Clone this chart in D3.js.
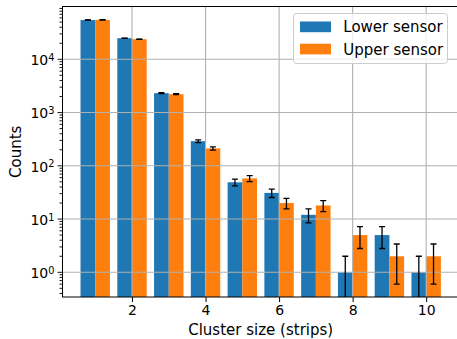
<!DOCTYPE html>
<html>
<head>
<meta charset="utf-8">
<script src="https://cdn.jsdelivr.net/npm/d3@7"></script>
<style>
  html, body { margin: 0; padding: 0; background: #fff; }
  svg { display: block; font-family: "DejaVu Sans", sans-serif; }
</style>
</head>
<body>
<svg id="chart" width="457" height="339"></svg>
<script>
// Cluster size distribution for the two sensors
const clusterSizes = [1, 2, 3, 4, 5, 6, 7, 8, 9, 10];
const lowerCounts = [54500, 24900, 2310, 290, 49, 31, 12, 1, 5, 1];
const upperCounts = [55000, 23800, 2210, 212, 58, 20, 18, 5, 2, 2];
const lowerErrors = [233, 158, 48, 17, 7, 5.6, 3.5, 1, 2.2, 1];
const upperErrors = [235, 154, 47, 14.6, 7.6, 4.5, 4.2, 2.2, 1.4, 1.4];
const seriesNames = ["Lower sensor", "Upper sensor"];
const seriesColors = ["#1f77b4", "#ff7f0e"];
const xTickValues = [2, 4, 6, 8, 10];
const yTickExponents = [0, 1, 2, 3, 4];

const svg = d3.select("#chart");
const plot = { left: 62.5, right: 458.9, top: 6.5, bottom: 297 };

const x = d3.scaleLinear().domain([0.11, 10.89]).range([plot.left, plot.right]);
const y = d3.scaleLog().domain([Math.pow(10, -0.4638), Math.pow(10, 4.9915)]).range([plot.bottom, plot.top]);

svg.append("defs").append("clipPath").attr("id", "plotClip")
  .append("rect")
  .attr("x", plot.left).attr("y", plot.top)
  .attr("width", plot.right - plot.left).attr("height", plot.bottom - plot.top);

const barWidth = 0.4;
const series = [
  { name: seriesNames[0], values: lowerCounts, errors: lowerErrors, color: seriesColors[0], offset: -barWidth },
  { name: seriesNames[1], values: upperCounts, errors: upperErrors, color: seriesColors[1], offset: 0 }
];

const area = svg.append("g").attr("clip-path", "url(#plotClip)");

// Bars
series.forEach(s => {
  area.append("g").selectAll("rect")
    .data(clusterSizes.map((c, i) => ({ c, v: s.values[i] })))
    .join("rect")
    .attr("x", d => x(d.c + s.offset))
    .attr("width", d => x(d.c + s.offset + barWidth) - x(d.c + s.offset))
    .attr("y", d => y(d.v))
    .attr("height", d => plot.bottom - y(d.v))
    .attr("fill", s.color);
});

// Grid lines (drawn above the bars)
const grid = area.append("g").attr("stroke", "#b0b0b0").attr("stroke-width", 1.1);
xTickValues.forEach(t => {
  grid.append("line")
    .attr("x1", x(t)).attr("x2", x(t))
    .attr("y1", plot.top).attr("y2", plot.bottom);
});
yTickExponents.forEach(e => {
  const v = Math.pow(10, e);
  grid.append("line")
    .attr("x1", plot.left).attr("x2", plot.right)
    .attr("y1", y(v)).attr("y2", y(v));
});

// Error bars
const capHalf = 3;
series.forEach(s => {
  const g = area.append("g").attr("stroke", "#000").attr("stroke-width", 1.3);
  clusterSizes.forEach((c, i) => {
    const cx = x(c + s.offset + barWidth / 2);
    const hi = s.values[i] + s.errors[i];
    const lo = s.values[i] - s.errors[i];
    const yHi = y(hi);
    const yLo = lo > 0 ? y(lo) : plot.bottom + 10;
    g.append("line").attr("x1", cx).attr("x2", cx).attr("y1", yHi).attr("y2", yLo);
    g.append("line").attr("x1", cx - capHalf).attr("x2", cx + capHalf).attr("y1", yHi).attr("y2", yHi);
    if (lo > 0) {
      g.append("line").attr("x1", cx - capHalf).attr("x2", cx + capHalf).attr("y1", yLo).attr("y2", yLo);
    }
  });
});

// Axes
const xAxis = d3.axisBottom(x).tickValues(xTickValues).tickSize(5).tickPadding(3).tickFormat(d3.format("d"));
const xg = svg.append("g").attr("transform", `translate(0,${plot.bottom})`).call(xAxis);
xg.select(".domain").remove();
xg.selectAll("line").attr("stroke", "#000").attr("stroke-width", 1);
xg.selectAll("text").attr("font-size", 14).attr("font-family", "DejaVu Sans").attr("fill", "#000");

// Log-axis ticks: majors at decades, minors at 2..9
const yTicks = svg.append("g").attr("stroke", "#000").attr("stroke-width", 0.9);
const [d0, d1] = y.domain();
for (let e = -1; e <= 5; e++) {
  for (let m = 1; m <= 9; m++) {
    const v = m * Math.pow(10, e);
    if (v < d0 || v > d1) continue;
    const len = m === 1 ? 5 : 3;
    yTicks.append("line")
      .attr("x1", plot.left - len).attr("x2", plot.left)
      .attr("y1", y(v)).attr("y2", y(v));
  }
}
yTickExponents.forEach(e => {
  const t = svg.append("text")
    .attr("x", 54.5).attr("y", y(Math.pow(10, e)) + 5.7)
    .attr("text-anchor", "end").attr("font-size", 14).attr("fill", "#000");
  t.append("tspan").text("10");
  t.append("tspan").attr("font-size", 9.8).attr("dy", -4.2).text(String(e));
});

// Frame
svg.append("rect")
  .attr("x", plot.left).attr("y", plot.top)
  .attr("width", plot.right - plot.left).attr("height", plot.bottom - plot.top)
  .attr("fill", "none").attr("stroke", "#000").attr("stroke-width", 1);

// Axis labels
svg.append("text")
  .attr("x", (plot.left + plot.right) / 2).attr("y", 335)
  .attr("text-anchor", "middle").attr("font-size", 15).attr("fill", "#000")
  .text("Cluster size (strips)");
svg.append("text")
  .attr("transform", `translate(20.5,${(plot.top + plot.bottom) / 2}) rotate(-90)`)
  .attr("text-anchor", "middle").attr("font-size", 15).attr("fill", "#000")
  .text("Counts");

// Legend
const legend = svg.append("g");
legend.append("rect")
  .attr("x", 293.5).attr("y", 13.5).attr("width", 154).attr("height", 50)
  .attr("rx", 3).attr("fill", "#fff").attr("fill-opacity", 0.8)
  .attr("stroke", "#cccccc").attr("stroke-width", 1);
series.forEach((s, i) => {
  const cy = 26.8 + i * 22.2;
  legend.append("rect")
    .attr("x", 300).attr("y", cy - 5.3).attr("width", 31).attr("height", 10.7)
    .attr("fill", s.color);
  legend.append("text")
    .attr("x", 343.3).attr("y", cy + 5.5)
    .attr("font-size", 15).attr("fill", "#000")
    .text(s.name);
});
</script>
</body>
</html>
